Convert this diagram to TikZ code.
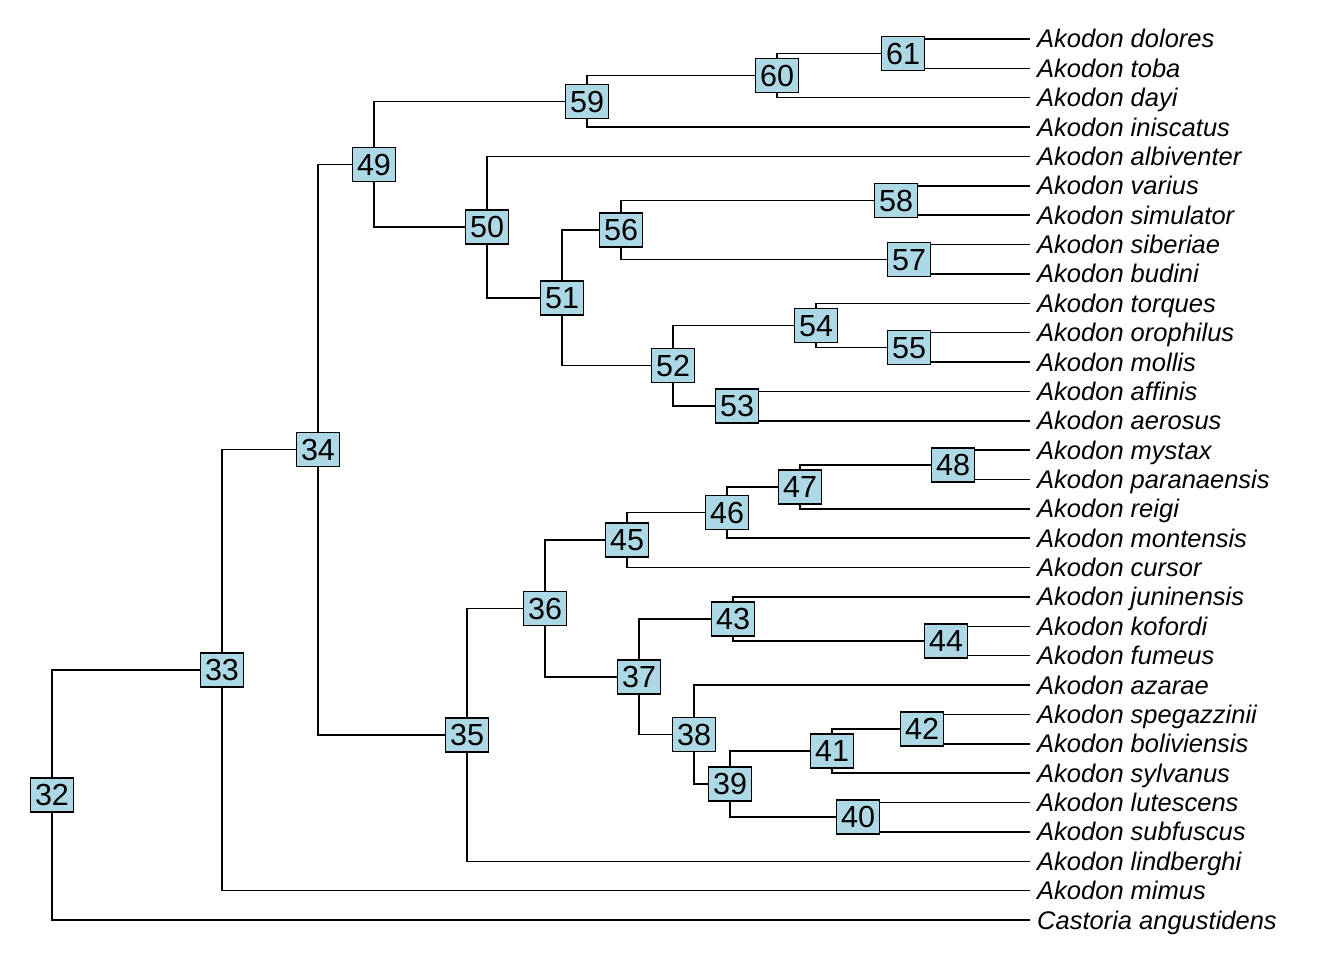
\documentclass[tikz,border=0pt]{standalone}
\usepackage{fontspec}
\setmainfont{Liberation Sans}
\usepackage{tikz}
\usetikzlibrary{backgrounds}

\definecolor{nodeblue}{HTML}{ADD8E6}

\tikzset{
  branch/.style={line width=1.5pt, black},
  nodelab/.style={draw=black, line width=1.5pt, fill=nodeblue, inner xsep=4.5pt, inner ysep=0pt,
    minimum height=34pt, text height=21.5pt, text depth=0pt, font=\fontsize{30.5}{30}\selectfont},
  tiplab/.style={anchor=base west, inner sep=0pt, font=\fontsize{25.5}{25}\selectfont\itshape},
}

\begin{document}
\begin{tikzpicture}[x=1pt, y=-1pt]
  \useasboundingbox (0,0) rectangle (1344,960);

  % Tips and their names
  \foreach \i/\name in {1/Akodon dolores, 2/Akodon toba, 3/Akodon dayi, 4/Akodon iniscatus,
      5/Akodon albiventer, 6/Akodon varius, 7/Akodon simulator, 8/Akodon siberiae,
      9/Akodon budini, 10/Akodon torques, 11/Akodon orophilus, 12/Akodon mollis,
      13/Akodon affinis, 14/Akodon aerosus, 15/Akodon mystax, 16/Akodon paranaensis,
      17/Akodon reigi, 18/Akodon montensis, 19/Akodon cursor, 20/Akodon juninensis,
      21/Akodon kofordi, 22/Akodon fumeus, 23/Akodon azarae, 24/Akodon spegazzinii,
      25/Akodon boliviensis, 26/Akodon sylvanus, 27/Akodon lutescens, 28/Akodon subfuscus,
      29/Akodon lindberghi, 30/Akodon mimus, 31/Castoria angustidens} {
    \pgfmathsetmacro\ty{39+29.367*(\i-1)}
    \coordinate (t\i) at (1030,\ty);
    \node[tiplab] (lab\i) at (1037,\ty+9) {\name};
  }

  % Internal nodes
  \foreach \n/\x/\y in {32/52/795, 33/222/670.1, 34/318/449.6, 35/467/734.8,
      36/545/608.4, 37/639/676.8, 38/694/734.6, 39/730/784.2, 40/858/817.2,
      41/832/751.1, 42/922/729.1, 43/733/619, 44/946/641, 45/627/540.1,
      46/727/512.5, 47/800/486.8, 48/953/464.8, 49/374/164.3, 50/487/227.1,
      51/562/297.8, 52/673/365.7, 53/737/406.1, 54/816/325.3, 55/909/347.3,
      56/621/229.9, 57/909/259.3, 58/896/200.5, 59/587/101.4, 60/777/75.7,
      61/903/53.7} {
    \node[nodelab] (n\n) at (\x,\y) {\n};
  }

  % Branches
  \begin{scope}[on background layer]
    \foreach \p/\c in {32/n33, 32/t31, 33/n34, 33/t30, 34/n49, 34/n35,
        35/n36, 35/t29, 36/n45, 36/n37, 37/n43, 37/n38, 38/t23, 38/n39,
        39/n41, 39/n40, 40/t27, 40/t28, 41/n42, 41/t26, 42/t24, 42/t25,
        43/t20, 43/n44, 44/t21, 44/t22, 45/n46, 45/t19, 46/n47, 46/t18,
        47/n48, 47/t17, 48/t15, 48/t16, 49/n59, 49/n50, 50/t5, 50/n51,
        51/n56, 51/n52, 52/n54, 52/n53, 53/t13, 53/t14, 54/t10, 54/n55,
        55/t11, 55/t12, 56/n58, 56/n57, 57/t8, 57/t9, 58/t6, 58/t7,
        59/n60, 59/t4, 60/n61, 60/t3, 61/t1, 61/t2} {
      \draw[branch] (n\p.center) |- (\c);
    }
  \end{scope}
\end{tikzpicture}
\end{document}
